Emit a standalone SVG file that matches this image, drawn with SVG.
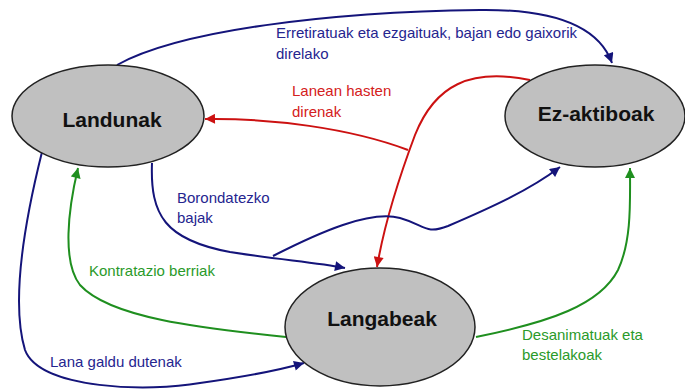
<svg xmlns="http://www.w3.org/2000/svg" width="685" height="389" viewBox="0 0 685 389">
<style>
.node{fill:#c0c0c0;stroke:#222;stroke-width:1.5}
.nt{font-family:"Liberation Sans",Arial,sans-serif;font-weight:bold;font-size:21px;fill:#111;text-anchor:middle}
.lb{font-family:"Liberation Sans",Arial,sans-serif;font-size:15px}
.b{fill:none;stroke:#14147a;stroke-width:2}
.r{fill:none;stroke:#cc1111;stroke-width:2}
.g{fill:none;stroke:#1f8f1f;stroke-width:2}
.tb{fill:#25258f}.tr{fill:#d42020}.tg{fill:#2a9a2a}
</style>
<defs>
<marker id="ab" viewBox="0 0 10 10" refX="10" refY="5" markerWidth="11" markerHeight="10" markerUnits="userSpaceOnUse" orient="auto"><path d="M0,0L10,5L0,10z" fill="#14147a"/></marker>
<marker id="ar" viewBox="0 0 10 10" refX="10" refY="5" markerWidth="11" markerHeight="10" markerUnits="userSpaceOnUse" orient="auto"><path d="M0,0L10,5L0,10z" fill="#cc1111"/></marker>
<marker id="ag" viewBox="0 0 10 10" refX="10" refY="5" markerWidth="11" markerHeight="10" markerUnits="userSpaceOnUse" orient="auto"><path d="M0,0L10,5L0,10z" fill="#1f8f1f"/></marker>
</defs>
<g id="connectors">
<path class="b" d="M117,65 C180,30 330,12 480,10 C560,9 600,30 612,63" marker-end="url(#ab)"/>
<path class="r" d="M530,80 C470,68 435,85 415,135 C400,175 385,220 377,267" marker-end="url(#ar)"/>
<path class="r" d="M408,150 C350,128 270,118 205,119" marker-end="url(#ar)"/>
<path class="b" d="M152,163 C150,215 165,240 230,252 C280,260 315,262 345,268" marker-end="url(#ab)"/>
<path class="b" d="M273,256 C320,232 370,210 400,218 C425,225 425,235 448,226 C490,208 530,190 560,167" marker-end="url(#ab)"/>
<path class="g" d="M286,337 C200,328 110,318 80,285 C62,262 68,210 78,168" marker-end="url(#ag)"/>
<path class="b" d="M42,152 C25,220 10,300 25,350 C40,390 150,392 200,383 C250,376 280,370 304,363" marker-end="url(#ab)"/>
<path class="g" d="M476,337 C550,322 600,305 618,270 C632,240 630,200 630,168" marker-end="url(#ag)"/>
</g>
<g id="landunak"><ellipse class="node" cx="108" cy="116" rx="96" ry="51"/><text class="nt" x="112" y="127">Landunak</text></g>
<g id="ez-aktiboak"><ellipse class="node" cx="595" cy="116" rx="90" ry="51"/><text class="nt" x="596" y="121">Ez-aktiboak</text></g>
<g id="langabeak"><ellipse class="node" cx="380" cy="327" rx="95" ry="59"/><text class="nt" x="382" y="326">Langabeak</text></g>
<g id="labels">
<text class="lb tb" x="276" y="38">Erretiratuak eta ezgaituak, bajan edo gaixorik</text>
<text class="lb tb" x="276" y="59">direlako</text>
<text class="lb tr" x="292" y="96">Lanean hasten</text>
<text class="lb tr" x="292" y="117">direnak</text>
<text class="lb tb" x="177" y="203">Borondatezko</text>
<text class="lb tb" x="177" y="223">bajak</text>
<text class="lb tg" x="89" y="276">Kontratazio berriak</text>
<text class="lb tb" x="50" y="367">Lana galdu dutenak</text>
<text class="lb tg" x="522" y="340">Desanimatuak eta</text>
<text class="lb tg" x="522" y="360">bestelakoak</text>
</g>
</svg>
